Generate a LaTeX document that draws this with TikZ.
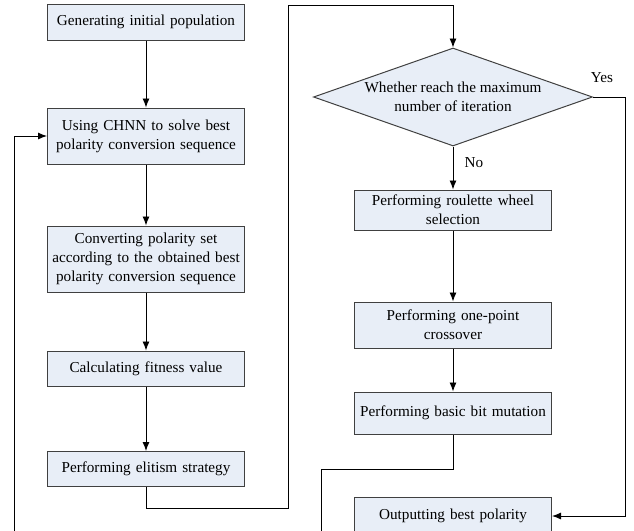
\documentclass[tikz,border=0pt]{standalone}
\usepackage{fontspec}
\setmainfont{Liberation Serif}
\usepackage{tikz}
\usetikzlibrary{shapes.geometric,arrows.meta}

\definecolor{boxfill}{RGB}{232,238,247}
\definecolor{boxline}{RGB}{64,64,64}

\tikzset{
    box/.style={draw=boxline, fill=boxfill, line width=1pt, text width=195pt, align=center,
        inner xsep=1pt, inner ysep=2pt, font=\fontsize{15.2}{19}\selectfont},
    decision/.style={shape=diamond, draw=boxline, fill=boxfill, line width=1pt, inner sep=0pt,
        minimum width=279pt, minimum height=98pt},
    arr/.style={-{Latex[length=9pt,width=7pt]}, line width=0.9pt},
    line/.style={line width=0.9pt}
}

\begin{document}
\begin{tikzpicture}[x=1pt, y=-1pt]
                        \useasboundingbox (0,0) rectangle (634,530);
                        \clip (0,0) rectangle (634,530);

                        % left column
                        \node[box, minimum height=36pt] (gen) at (146,22) {Generating initial population};
                        \node[box, minimum height=56pt] (chnn) at (146,136) {Using CHNN to solve best\\polarity conversion sequence};
                        \node[box, minimum height=66pt] (conv) at (146,259) {Converting polarity set\\according to the obtained best\\polarity conversion sequence};
                        \node[box, minimum height=35pt] (fit) at (146,368.5) {Calculating fitness value};
                        \node[box, minimum height=35pt] (elit) at (146,469) {Performing elitism strategy};

                        % right column
                        \node[decision, label={[align=center, font=\fontsize{15.2}{19}\selectfont]center:Whether reach the maximum\\number of iteration}] (dec) at (453,97) {};
                        \node[box, minimum height=40pt] (rws) at (453,210) {Performing roulette wheel\\selection};
                        \node[box, minimum height=46pt] (opc) at (453,325) {Performing one-point\\crossover};
                        \node[box, minimum height=42pt] (bbm) at (453,413) {Performing basic bit mutation};
                        \node[box, minimum height=38pt] (out) at (453,516) {Outputting best polarity};

                        \coordinate (e1) at (288,508);
                        \coordinate (e2) at (288,5);
                        \coordinate (y1) at (625,97);
                        \coordinate (m1) at (321,469);
                        \coordinate (m2) at (321,545);
                        \coordinate (l1) at (14,545);

                        \path [arr] (gen) edge (chnn)
                        (chnn) edge (conv)
                        (conv) edge (fit)
                        (fit) edge (elit)
                        (dec) edge (rws)
                        (rws) edge (opc)
                        (opc) edge (bbm);

                        \draw [arr] (elit.south) |- (e1) -- (e2) -| (dec.north);
                        \draw [arr] (dec.east) -- (y1) |- (out.east);
                        \draw [line] (bbm.south) |- (m1) -- (m2);
                        \draw [arr] (l1) |- (chnn.west);

                        \node[font=\fontsize{15.2}{19}\selectfont] (yes) at (602,78) {Yes};
                        \node[font=\fontsize{15.2}{19}\selectfont] (no) at (474,163) {No};
                    \end{tikzpicture}
\end{document}
